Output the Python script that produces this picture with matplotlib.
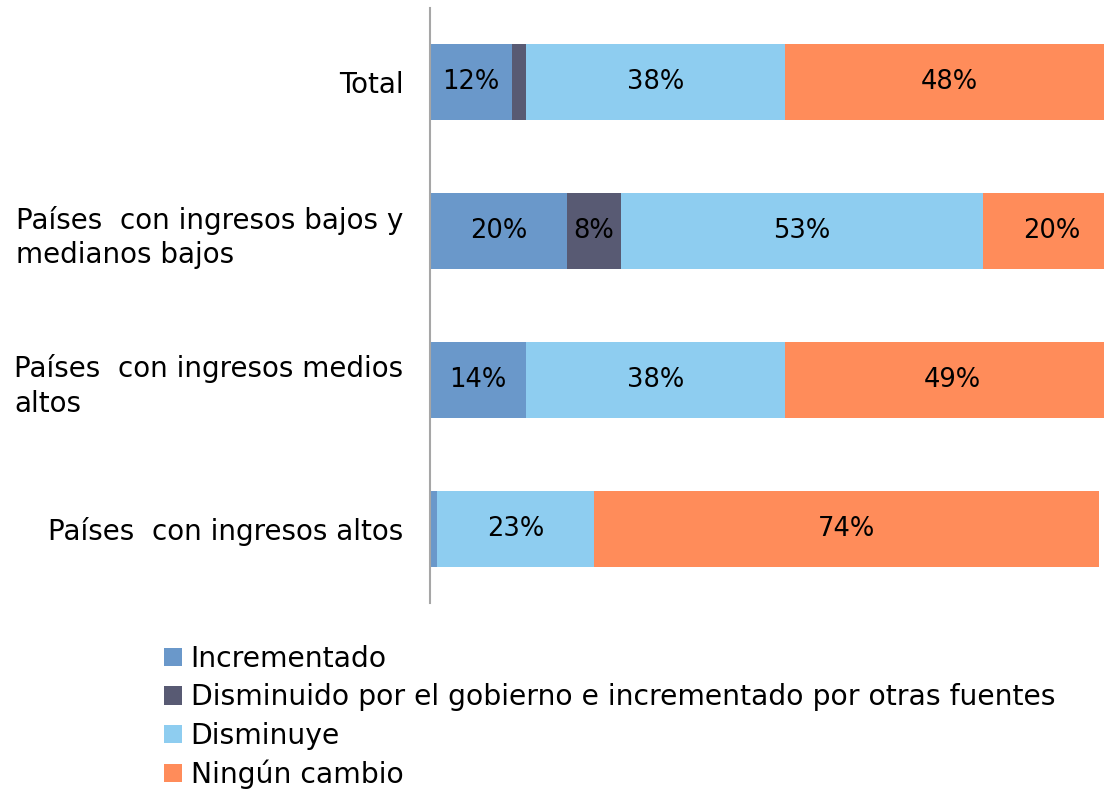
import numpy as np
import matplotlib.pyplot as plt

plt.rcParams['font.family'] = ['DejaVu Sans']

categories = ['Total',
              'Países  con ingresos bajos y\nmedianos bajos',
              'Países  con ingresos medios\naltos',
              'Países  con ingresos altos']
series = ['Incrementado',
          'Disminuido por el gobierno e incrementado por otras fuentes',
          'Disminuye',
          'Ningún cambio']
incrementado = [12, 20, 14, 1]
disminuido_gob = [2, 8, 0, 0]
disminuye = [38, 53, 38, 23]
ningun_cambio = [48, 20, 49, 74]
colors = ['#6A98CA', '#585A73', '#8ECDF0', '#FF8C5A']

fig = plt.figure(figsize=(11.04, 7.93), dpi=100)
ax = fig.add_axes([0.3895, 0.2396, 0.6105, 0.7504])

y = np.arange(len(categories))
left = np.zeros(len(categories))
for name, vals, c in zip(series,
                         [incrementado, disminuido_gob, disminuye, ningun_cambio],
                         colors):
    vals = np.array(vals, dtype=float)
    bars = ax.barh(y, vals / 100, left=left / 100, height=0.51, color=c,
                   label=name)
    for yi, l, v in zip(y, left, vals):
        if v >= 5:
            ax.text((l + v / 2) / 100, yi, f'{int(v)}%', ha='center',
                    va='center', fontsize=18.5, color='black')
    left += vals

ax.set_xlim(0, 0.987)
ax.set_ylim(3.5, -0.5)
ax.set_yticks(y)
ax.set_yticklabels(categories, fontsize=20, multialignment='left',
                   linespacing=1.3)
ax.tick_params(axis='y', length=0, pad=19)
ax.set_xticks([])
for s in ['top', 'right', 'bottom']:
    ax.spines[s].set_visible(False)
ax.spines['left'].set_color('#A6A6A6')
ax.spines['left'].set_linewidth(1.5)

fig.legend(loc='upper left', bbox_to_anchor=(0.1385, 0.2005), frameon=False,
           fontsize=20.3, handlelength=0.62, handleheight=0.62,
           handletextpad=0.32, labelspacing=0.36, borderaxespad=0)

plt.savefig('out.png', dpi=100)
